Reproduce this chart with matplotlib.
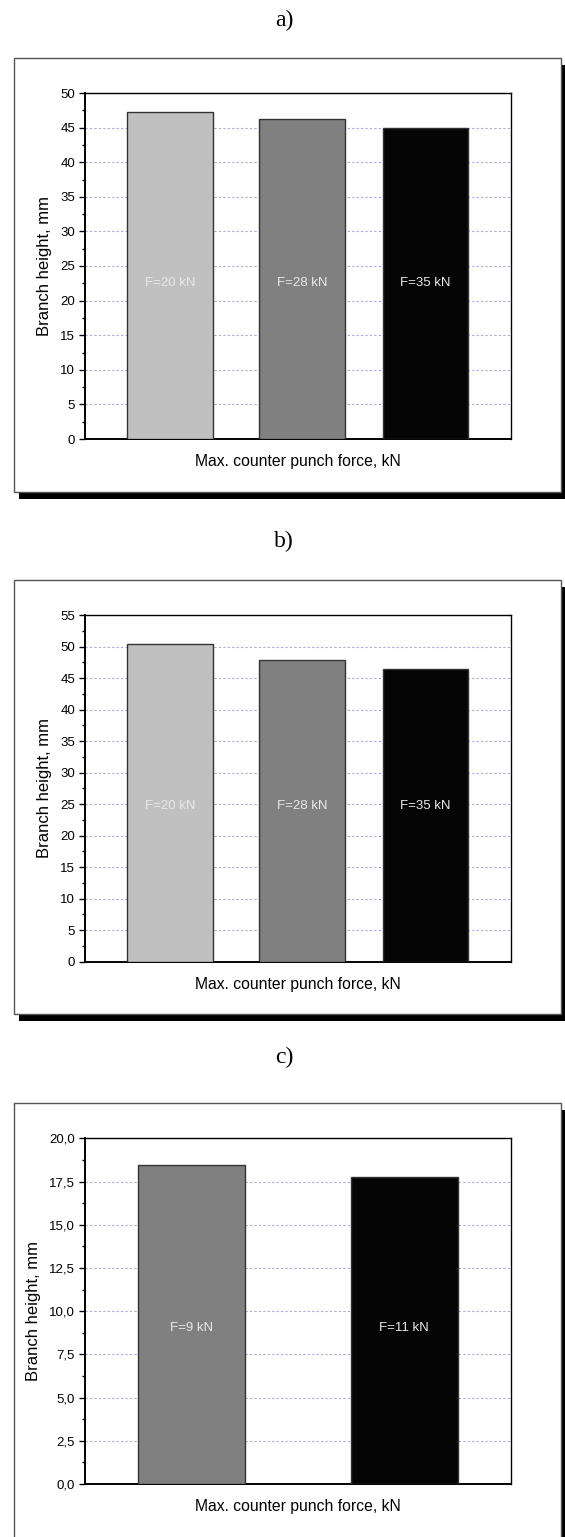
import numpy as np
import matplotlib
matplotlib.use('Agg')
import matplotlib.pyplot as plt
import matplotlib.ticker as ticker
from matplotlib.patches import Rectangle

plt.rcParams['font.family'] = ['Liberation Sans', 'DejaVu Sans']

########################################
# DATA

labels_ab = ['F=20 kN', 'F=28 kN', 'F=35 kN']
heights_a = [47.3, 46.3, 44.9]
heights_b = [50.4, 47.9, 46.5]

labels_c = ['F=9 kN', 'F=11 kN']
heights_c = [18.45, 17.75]

panel_titles = ['a)', 'b)', 'c)']
xlabel = 'Max. counter punch force, kN'
ylabel = 'Branch height, mm'

########################################
# LAYOUT (pixels of a 565 x 1537 canvas)

W, H = 565, 1537
bar_colors_3 = ['#c0c0c0', '#808080', '#050505']
bar_colors_2 = ['#808080', '#050505']

fig = plt.figure(figsize=(W / 100, H / 100), dpi=100)
fig.patch.set_facecolor('white')


def fx(px):
    return px / W


def fy(py):
    return 1 - py / H


def draw_frame(x0, y0, x1, y1):
    # shadow first, then the white box on top
    fig.patches.append(Rectangle((fx(x0 + 5), fy(y1 + 7)), fx(x1 - x0), (y1 - y0) / H,
                                 transform=fig.transFigure, facecolor='black',
                                 edgecolor='none', zorder=0))
    fig.patches.append(Rectangle((fx(x0), fy(y1)), fx(x1 - x0), (y1 - y0) / H,
                                 transform=fig.transFigure, facecolor='white',
                                 edgecolor='#555555', linewidth=1.0, zorder=1))


def draw_panel(top, bottom, heights, labels, colors, pos, width,
               ymax, major, minor, comma=False):
    ax = fig.add_axes([fx(84.7), fy(bottom), fx(426.2), (bottom - top) / H])
    ax.set_zorder(2)
    ax.bar(pos, heights, width=width, color=colors, edgecolor='#333333',
           linewidth=1.0, zorder=3)
    for p, lab in zip(pos, labels):
        ax.text(p, 0.45 * ymax, lab, ha='center', va='center',
                color='#e8e8e8', fontsize=9.5, zorder=4)
    ax.set_xlim(0, 1)
    ax.set_ylim(0, ymax)
    ax.yaxis.set_major_locator(ticker.MultipleLocator(major))
    ax.yaxis.set_minor_locator(ticker.MultipleLocator(minor))
    if comma:
        ax.yaxis.set_major_formatter(
            ticker.FuncFormatter(lambda v, _: f'{v:.1f}'.replace('.', ',')))
    ax.set_xticks([])
    ax.grid(axis='y', which='major', color='#a8a8e0', linestyle=(0, (2, 2)),
            linewidth=0.8, zorder=0)
    ax.set_axisbelow(True)
    ax.tick_params(axis='y', which='major', length=4.5, width=1.0,
                   labelsize=9.5, pad=2.5, direction='out')
    ax.tick_params(axis='y', which='minor', length=2.5, width=1.0,
                   direction='out')
    for s in ['left', 'bottom']:
        ax.spines[s].set_linewidth(1.4)
    for s in ['top', 'right']:
        ax.spines[s].set_linewidth(1.0)
    ax.set_ylabel(ylabel, fontsize=12, labelpad=6)
    ax.set_xlabel(xlabel, fontsize=11.3, labelpad=11)
    return ax


# frames
draw_frame(14, 58, 561, 492)
draw_frame(14, 580, 561, 1014)
draw_frame(14, 1103, 561, 1545)

# titles
for t, yc in zip(panel_titles, [20, 541, 1057]):
    fig.text(fx(284), fy(yc), t, ha='center', va='center', fontsize=17,
             family=['Liberation Serif', 'DejaVu Serif'])

pos3 = [0.2, 0.51, 0.8]
pos2 = [0.25, 0.75]

draw_panel(93, 439, heights_a, labels_ab, bar_colors_3, pos3, 0.2, 50, 5, 2.5)
draw_panel(615, 961.7, heights_b, labels_ab, bar_colors_3, pos3, 0.2, 55, 5, 2.5)
draw_panel(1138.3, 1484, heights_c, labels_c, bar_colors_2, pos2, 0.25, 20, 2.5, 1.25,
           comma=True)

fig.savefig('out.png', dpi=100)
